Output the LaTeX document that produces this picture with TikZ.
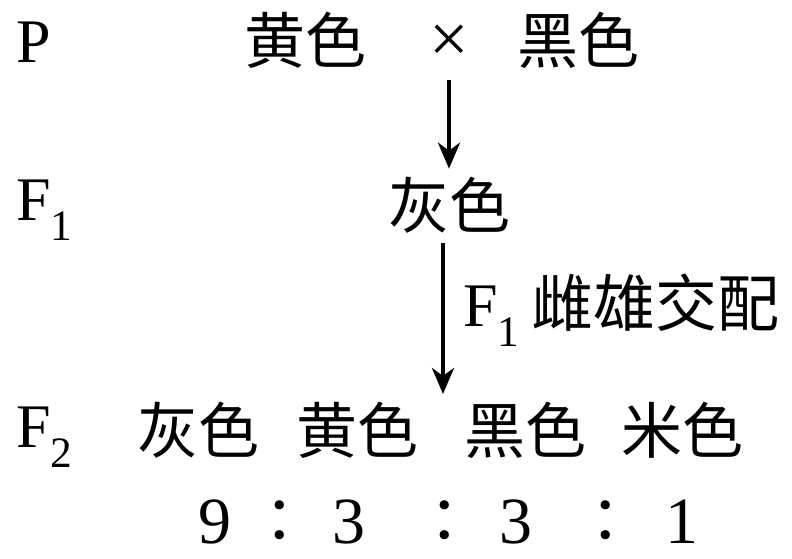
\documentclass[tikz,border=0pt]{standalone}
\usepackage{fontspec}
\setmainfont{Liberation Serif}
\newfontfamily\cjk{Noto Sans CJK SC}
\usetikzlibrary{arrows.meta, positioning}

\tikzset{
  gen/.style={font=\fontsize{62}{66}\selectfont, inner sep=0pt, anchor=west},
  pheno/.style={font=\cjk\fontsize{61}{66}\selectfont, inner sep=0pt},
  num/.style={font=\fontsize{66}{70}\selectfont, inner sep=0pt},
  arr/.style={line width=4pt, -{Stealth[length=26pt, width=22pt, inset=8pt]}}
}

\begin{document}
\begin{tikzpicture}[x=1pt, y=-1pt]

  \useasboundingbox (0,0) rectangle (792,559);

  %% generation labels
  \node[gen] (genP)  at (16,42)  {P};
  \node[gen] (genF1) at (16,210) {F\textsubscript{1}};
  \node[gen] (genF2) at (16,437) {F\textsubscript{2}};

  %% parents
  \node[pheno] (pYellow) at (305,40) {黄色};
  \node[num, font=\fontsize{70}{70}\selectfont] (cross) at (449,44) {×};
  \node[pheno] (pBlack)  at (578,40) {黑色};

  %% F1
  \node[pheno] (fGray) at (449,205) {灰色};
  \draw[arr] (cross.center) ++(0,36) -- ([yshift=8pt]fGray.north);

  %% F2
  \node[pheno] (sGray)   at (198,430) {灰色};
  \node[pheno] (sYellow) at (357,430) {黄色};
  \node[pheno] (sBlack)  at (525,430) {黑色};
  \node[pheno] (sRice)   at (682,430) {米色};

  \coordinate (mate) at (443,394);
  \draw[arr] (fGray.south -| mate) ++(0,10) -- (mate);
  \node[gen] (mateLbl) at (463,310) {F\textsubscript{1}\hspace{12pt}{\cjk 雌雄交配}};

  %% ratio (full-width colon sits left in its box)
  \node[num]   (rA) at (215,522) {9};
  \node[pheno] (cA) at (295,520) {：};
  \node[num]   (rB) at (349,522) {3};
  \node[pheno] (cB) at (460,520) {：};
  \node[num]   (rC) at (516,522) {3};
  \node[pheno] (cC) at (621,520) {：};
  \node[num]   (rD) at (682,522) {1};

\end{tikzpicture}
\end{document}
